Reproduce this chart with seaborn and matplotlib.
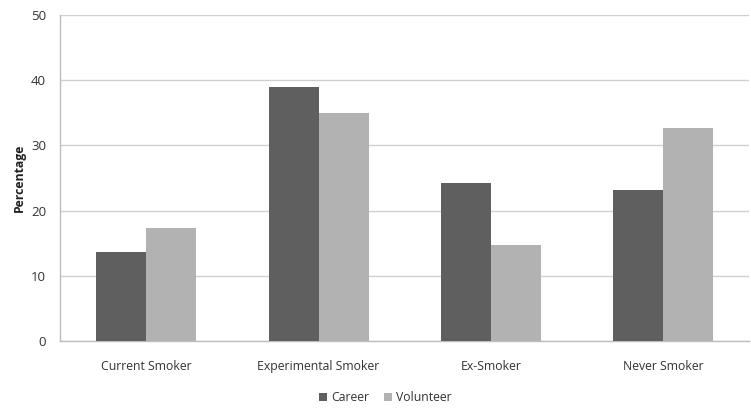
import matplotlib
matplotlib.use("Agg")
import matplotlib.pyplot as plt
import seaborn as sns
import pandas as pd
from matplotlib.patches import Patch

categories = ["Current Smoker", "Experimental Smoker", "Ex-Smoker", "Never Smoker"]
career = [13.6, 38.9, 24.3, 23.2]
volunteer = [17.4, 34.9, 14.8, 32.7]
groups = ["Career", "Volunteer"]
colors = ["#5f5f5f", "#b2b2b2"]
y_ticks = [0, 10, 20, 30, 40, 50]

df = pd.DataFrame({
    "Category": categories * 2,
    "Group": [groups[0]] * len(categories) + [groups[1]] * len(categories),
    "Percentage": career + volunteer,
})

sns.set_theme(style="white")
plt.rcParams["font.family"] = ["Open Sans", "DejaVu Sans"]

fig = plt.figure(figsize=(7.51, 4.12), dpi=100)
ax = fig.add_axes([0.0799, 0.1723, 0.9181, 0.7913])

sns.barplot(data=df, x="Category", y="Percentage", hue="Group",
            palette=colors, width=0.58, order=categories, hue_order=groups,
            saturation=1, edgecolor="none", ax=ax, legend=False, zorder=3)

ax.set_ylim(0, 50)
ax.set_xlim(-0.5, len(categories) - 0.5)
ax.set_yticks(y_ticks)
ax.set_yticklabels([str(t) for t in y_ticks], fontsize=9.5, color="#333333")
ax.tick_params(axis="x", labelsize=8.8, colors="#333333", length=0, pad=14)
ax.tick_params(axis="y", length=0, pad=10)
ax.yaxis.grid(True, color="#cfcfcf", linewidth=1.0, zorder=0)
ax.set_axisbelow(True)

for side in ["top", "right"]:
    ax.spines[side].set_visible(False)
ax.spines["left"].set_color("#bdbdbd")
ax.spines["bottom"].set_color("#bdbdbd")
ax.spines["left"].set_linewidth(1.0)
ax.spines["bottom"].set_linewidth(1.0)

ax.set_xlabel("")
ax.set_ylabel("Percentage", fontsize=8.8, fontweight="bold", color="#222222", labelpad=4)

handles = [Patch(facecolor=c, edgecolor="none", label=g) for g, c in zip(groups, colors)]
fig.legend(handles=handles, loc="center", bbox_to_anchor=(0.513, 0.035), ncol=2,
           frameon=False, fontsize=8.8, handlelength=0.7, handleheight=0.7,
           handletextpad=0.3, columnspacing=1.2, labelcolor="#333333")

fig.savefig("out.png", dpi=100)
